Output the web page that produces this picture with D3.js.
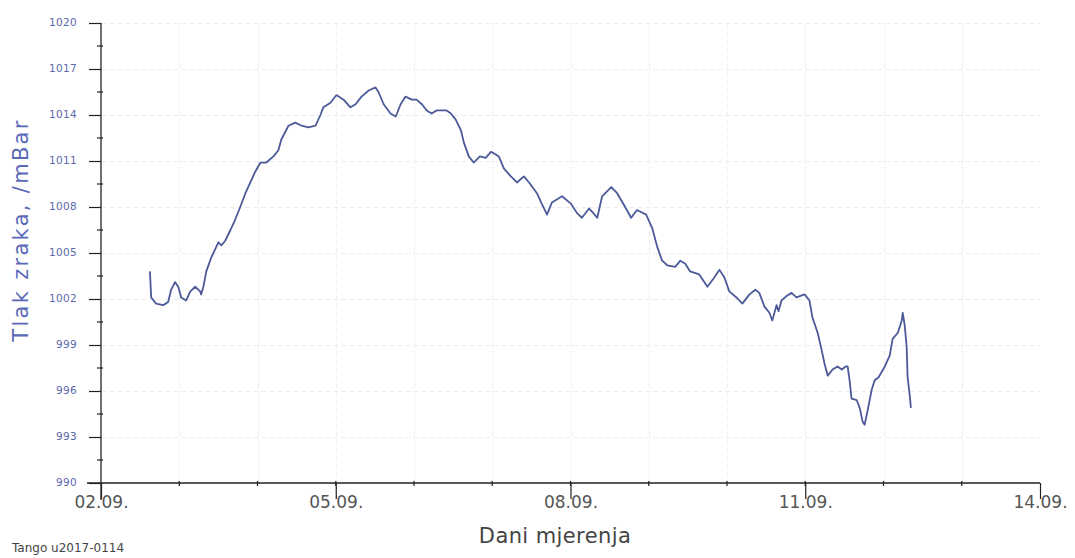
<!DOCTYPE html>
<html>
<head>
<meta charset="utf-8">
<script src="https://cdn.jsdelivr.net/npm/d3@7/dist/d3.min.js"></script>
<style>
  html, body { margin: 0; padding: 0; background: #ffffff; }
  svg { display: block; }
</style>
</head>
<body>
<svg id="chart" width="1075" height="558"></svg>
<script>
// ---- Data (hours since 02.09.2017 00:00, pressure in mBar) ----
const hours = [
  15.0, 15.4, 16.9, 19.1, 20.6, 21.5, 22.7, 23.7, 24.6, 26.1, 27.4, 28.9, 30.4, 30.7, 31.4, 32.3,
  33.8, 36.0, 36.9, 38.1, 39.7, 41.2, 42.7, 44.3, 45.8, 47.3, 48.9, 50.7, 52.9, 54.4, 55.3, 57.5,
  59.6, 61.5, 63.6, 65.8, 67.3, 68.2, 70.4, 72.2, 74.4, 76.5, 78.1, 79.9, 82.1, 84.2, 85.1, 86.7,
  88.8, 90.4, 91.9, 93.4, 95.3, 96.8, 98.4, 99.9, 101.4, 103.0, 106.0, 107.3, 108.8, 110.4, 111.3, 112.8,
  114.3, 116.2, 118.0, 119.6, 120.5, 122.0, 123.6, 125.7, 127.6, 129.7, 131.3, 133.7, 135.2, 136.8, 138.3, 141.4,
  144.2, 146.0, 147.5, 149.7, 150.6, 152.2, 153.7, 156.5, 158.3, 160.5, 162.6, 164.4, 167.2, 169.1, 170.6, 172.1,
  173.7, 176.1, 177.7, 179.2, 180.7, 183.5, 186.0, 188.1, 189.7, 191.2, 192.7, 194.9, 196.7, 198.9, 200.7, 201.9,
  203.5, 205.0, 205.9, 207.2, 207.8, 208.7, 210.3, 211.8, 213.3, 215.8, 217.3, 218.2, 219.8, 221.0, 221.9, 222.9,
  224.4, 225.9, 227.2, 228.4, 229.0, 229.6, 230.2, 231.8, 232.7, 233.6, 234.2, 235.1, 236.4, 237.3, 238.5, 240.4,
  241.9, 242.8, 244.4, 245.6, 245.9, 246.5, 247.1, 247.4, 248.1, 248.4
];
const pressure = [
  1003.8, 1002.1, 1001.7, 1001.6, 1001.8, 1002.6, 1003.1, 1002.8, 1002.1, 1001.9, 1002.5, 1002.8, 1002.5, 1002.3, 1002.8, 1003.8,
  1004.7, 1005.7, 1005.5, 1005.8, 1006.5, 1007.2, 1008.0, 1008.9, 1009.6, 1010.3, 1010.9, 1010.9, 1011.3, 1011.7, 1012.4, 1013.3,
  1013.5, 1013.3, 1013.2, 1013.3, 1014.0, 1014.5, 1014.8, 1015.3, 1015.0, 1014.5, 1014.7, 1015.2, 1015.6, 1015.8, 1015.5, 1014.7,
  1014.1, 1013.9, 1014.7, 1015.2, 1015.0, 1015.0, 1014.7, 1014.3, 1014.1, 1014.3, 1014.3, 1014.1, 1013.7, 1013.0, 1012.2, 1011.3,
  1010.9, 1011.3, 1011.2, 1011.6, 1011.5, 1011.3, 1010.5, 1010.0, 1009.6, 1010.0, 1009.6, 1008.9, 1008.2, 1007.5, 1008.3, 1008.7,
  1008.2, 1007.6, 1007.3, 1007.9, 1007.7, 1007.3, 1008.7, 1009.3, 1008.9, 1008.1, 1007.3, 1007.8, 1007.5, 1006.6, 1005.4, 1004.5,
  1004.2, 1004.1, 1004.5, 1004.3, 1003.8, 1003.6, 1002.8, 1003.4, 1003.9, 1003.4, 1002.5, 1002.1, 1001.7, 1002.3, 1002.6, 1002.4,
  1001.5, 1001.1, 1000.6, 1001.6, 1001.2, 1001.9, 1002.2, 1002.4, 1002.1, 1002.3, 1001.9, 1000.8, 999.8, 998.7, 997.8, 997.0,
  997.4, 997.6, 997.4, 997.6, 997.6, 996.7, 995.5, 995.4, 994.9, 994.0, 993.8, 994.7, 996.1, 996.7, 996.9, 997.6,
  998.3, 999.4, 999.8, 1000.6, 1001.1, 1000.3, 998.9, 996.9, 995.6, 994.9
];

const yTicks = [990, 993, 996, 999, 1002, 1005, 1008, 1011, 1014, 1017, 1020];
const xTickDays = [2, 5, 8, 11, 14];           // day of September 2017
const xTitle = "Dani mjerenja";
const yTitle = "Tlak zraka, /mBar";
const footer = "Tango u2017-0114";

// ---- Scales ----
const svg = d3.select("#chart");
const x = d3.scaleTime()
  .domain([new Date(2017, 8, 2), new Date(2017, 8, 14)])
  .range([101, 1040]);
const y = d3.scaleLinear().domain([990, 1020]).range([483, 23]);

const start = new Date(2017, 8, 2).getTime();
const points = hours.map((h, i) => ({ t: new Date(start + h * 3600 * 1000), p: pressure[i] }));

// ---- Grid ----
const grid = svg.append("g").attr("stroke", "#eeeeee").attr("stroke-width", 1)
  .attr("stroke-dasharray", "5,3");
const dayTicks = d3.timeDay.range(new Date(2017, 8, 3), new Date(2017, 8, 14));
grid.selectAll("line.v").data(dayTicks).join("line")
  .attr("x1", d => Math.round(x(d)) + 0.5).attr("x2", d => Math.round(x(d)) + 0.5)
  .attr("y1", y(1020)).attr("y2", y(990));
grid.selectAll("line.h").data(yTicks.slice(1)).join("line")
  .attr("x1", x.range()[0]).attr("x2", x.range()[1])
  .attr("y1", d => Math.round(y(d)) + 0.5).attr("y2", d => Math.round(y(d)) + 0.5);

// ---- Line ----
svg.append("path")
  .datum(points)
  .attr("fill", "none")
  .attr("stroke", "#4d5a99")
  .attr("stroke-width", 1.8)
  .attr("stroke-linejoin", "round")
  .attr("d", d3.line().x(d => x(d.t)).y(d => y(d.p)));

// ---- Axes ----
const axisColor = "#222";
// Y axis
const yAxis = svg.append("g").attr("transform", `translate(${x.range()[0]},0)`)
  .call(d3.axisLeft(y).tickValues(yTicks).tickSize(12).tickFormat(d3.format("d")));
yAxis.select(".domain").remove();
yAxis.selectAll(".tick line").attr("stroke", axisColor).attr("stroke-width", 1.2);
yAxis.selectAll(".tick text")
  .attr("x", -24).attr("dy", "0.2em")
  .attr("fill", "#5a68ad")
  .style("font-family", "'DejaVu Sans', sans-serif")
  .style("font-size", "10.5px")
  .style("letter-spacing", "0.3px");
// y minor ticks
const yMinor = d3.range(991.5, 1020, 3);
svg.append("g").selectAll("line").data(yMinor).join("line")
  .attr("x1", x.range()[0] - 4).attr("x2", x.range()[0] + 2)
  .attr("y1", d => y(d)).attr("y2", d => y(d))
  .attr("stroke", axisColor).attr("stroke-width", 1.2);
svg.append("line")
  .attr("x1", x.range()[0]).attr("x2", x.range()[0])
  .attr("y1", y(1020)).attr("y2", y(990) + 17)
  .attr("stroke", axisColor).attr("stroke-width", 1.3);

// X axis
const xAxis = svg.append("g").attr("transform", `translate(0,${y(990)})`)
  .call(d3.axisBottom(x)
    .tickValues(xTickDays.map(d => new Date(2017, 8, d)))
    .tickSize(16)
    .tickFormat(d3.timeFormat("%d.%m.")));
xAxis.select(".domain").remove();
xAxis.selectAll(".tick line").attr("stroke", axisColor).attr("stroke-width", 1.2);
xAxis.selectAll(".tick text")
  .attr("y", 25).attr("dy", 0)
  .attr("fill", "#555")
  .style("font-family", "'DejaVu Sans', sans-serif")
  .style("font-size", "17px");
svg.append("g").selectAll("line").data(dayTicks).join("line")
  .attr("x1", d => x(d)).attr("x2", d => x(d))
  .attr("y1", y(990) - 2).attr("y2", y(990) + 3)
  .attr("stroke", axisColor).attr("stroke-width", 1.2);
svg.append("line")
  .attr("x1", x.range()[0] - 14).attr("x2", x.range()[1])
  .attr("y1", y(990)).attr("y2", y(990))
  .attr("stroke", axisColor).attr("stroke-width", 1.3);

// ---- Titles ----
svg.append("text")
  .attr("x", 555).attr("y", 543)
  .attr("text-anchor", "middle")
  .attr("fill", "#444")
  .style("font-family", "'DejaVu Sans', sans-serif")
  .style("font-size", "21px")
  .style("letter-spacing", "0.4px")
  .text(xTitle);

svg.append("text")
  .attr("transform", "translate(28,230) rotate(-90)")
  .attr("text-anchor", "middle")
  .attr("fill", "#5a6ab8")
  .style("font-family", "'DejaVu Sans', sans-serif")
  .style("font-size", "21px")
  .style("letter-spacing", "2.3px")
  .text(yTitle);

svg.append("text")
  .attr("x", 12).attr("y", 552)
  .attr("fill", "#444")
  .style("font-family", "'DejaVu Sans', sans-serif")
  .style("font-size", "12px")
  .text(footer);
</script>
</body>
</html>
